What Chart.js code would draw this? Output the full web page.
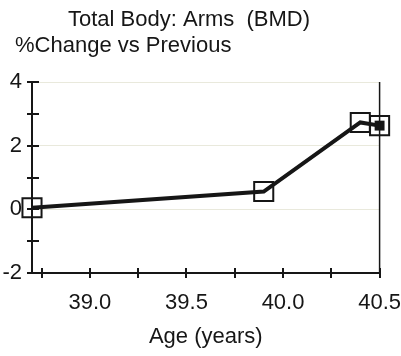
<!DOCTYPE html>
<html>
<head>
<meta charset="utf-8">
<script src="https://cdn.jsdelivr.net/npm/chart.js@4/dist/chart.umd.min.js"></script>
<style>
  html, body { margin: 0; padding: 0; background: #fff; }
  #wrap { width: 401px; height: 356px; position: relative; }
</style>
</head>
<body>
<div id="wrap"><canvas id="c" width="401" height="356"></canvas></div>
<script>
// Arm bone mineral density, % change vs previous scan, by age
const ages = [38.70, 39.90, 40.40, 40.50];
const pctChange = [0.05, 0.56, 2.73, 2.63];
const latestIndex = 3;

const xTickValues = [38.75, 39.0, 39.25, 39.5, 39.75, 40.0, 40.25, 40.5];
const xLabelValues = [39.0, 39.5, 40.0, 40.5];
const yTickValues = [-2, -1, 0, 1, 2, 3, 4];
const yLabelValues = [-2, 0, 2, 4];

const titleText = 'Total Body: Arms  (BMD)';
const yTitleText = '%Change vs Previous';
const xTitleText = 'Age (years)';

const FONT = '"Liberation Sans", Arial, sans-serif';
const INK = '#161616';

const points = ages.map((a, i) => ({ x: a, y: pctChange[i] }));

// Titles, crossing tick marks and the right-hand frame line
const decor = {
  id: 'decor',
  afterDraw(chart) {
    const { ctx, chartArea, scales } = chart;
    ctx.save();
    ctx.fillStyle = INK;
    ctx.textBaseline = 'alphabetic';
    ctx.font = '22px ' + FONT;
    ctx.fillText(titleText, 68, 26);
    ctx.fillText(yTitleText, 15, 52);

    ctx.strokeStyle = INK;
    ctx.lineWidth = 2;
    const yAxisX = chartArea.left;
    yTickValues.forEach(v => {
      const py = Math.round(scales.y.getPixelForValue(v));
      ctx.beginPath();
      ctx.moveTo(yAxisX - 5, py);
      ctx.lineTo(yAxisX + 7, py);
      ctx.stroke();
    });
    const xAxisY = chartArea.bottom;
    xTickValues.forEach(v => {
      const px = Math.round(scales.x.getPixelForValue(v));
      ctx.beginPath();
      ctx.moveTo(px, xAxisY - 5);
      ctx.lineTo(px, xAxisY + 5);
      ctx.stroke();
    });
    // right frame line
    ctx.lineWidth = 1.5;
    const rx = scales.x.getPixelForValue(40.5);
    ctx.beginPath();
    ctx.moveTo(rx, chartArea.top);
    ctx.lineTo(rx, chartArea.bottom);
    ctx.stroke();
    ctx.restore();
  }
};

new Chart(document.getElementById('c'), {
  type: 'line',
  data: {
    datasets: [
      {
        data: points,
        borderColor: INK,
        borderWidth: 4,
        tension: 0,
        clip: false,
        pointStyle: 'rect',
        pointRadius: 13.5,
        pointBorderWidth: 2,
        pointBorderColor: INK,
        pointBackgroundColor: 'rgba(0,0,0,0)'
      },
      {
        data: [points[latestIndex]],
        showLine: false,
        clip: false,
        pointStyle: 'rect',
        pointRadius: 7,
        pointBorderWidth: 0,
        pointBackgroundColor: INK
      }
    ]
  },
  options: {
    responsive: false,
    animation: false,
    events: [],
    layout: { autoPadding: false, padding: { left: 0, right: 0, top: 82, bottom: 0 } },
    plugins: { legend: { display: false }, tooltip: { enabled: false }, title: { display: false } },
    scales: {
      x: {
        type: 'linear',
        min: 38.70,
        max: 40.5,
        afterBuildTicks(scale) { scale.ticks = xTickValues.map(v => ({ value: v })); },
        afterFit(scale) { scale.height = 83; },
        ticks: {
          autoSkip: false,
          maxRotation: 0,
          padding: 0,
          color: INK,
          font: { family: FONT, size: 22, lineHeight: 1.0 },
          callback: v => xLabelValues.some(l => Math.abs(l - v) < 1e-6) ? Number(v).toFixed(1) : ''
        },
        // tick marks are drawn by the decor plugin; this only spaces the labels
        grid: { drawOnChartArea: false, drawTicks: true, tickLength: 19, tickColor: 'rgba(0,0,0,0)' },
        border: { display: true, color: INK, width: 2 },
        title: { display: true, text: xTitleText, color: INK, font: { family: FONT, size: 22, lineHeight: 1.0 }, padding: { top: 0, bottom: 8 } }
      },
      y: {
        min: -2,
        max: 4,
        afterBuildTicks(scale) { scale.ticks = yTickValues.map(v => ({ value: v })); },
        afterFit(scale) { scale.width = 32; },
        ticks: {
          autoSkip: false,
          padding: 10,
          color: INK,
          font: { family: FONT, size: 22 },
          callback: v => yLabelValues.includes(v) ? String(v) : ''
        },
        grid: {
          drawTicks: false,
          lineWidth: 1,
          color: c => (c.tick && c.tick.value % 2 === 0 && c.tick.value > -2) ? '#e9e9dc' : 'rgba(0,0,0,0)'
        },
        border: { display: true, color: INK, width: 2 }
      }
    }
  },
  plugins: [decor]
});
</script>
</body>
</html>
